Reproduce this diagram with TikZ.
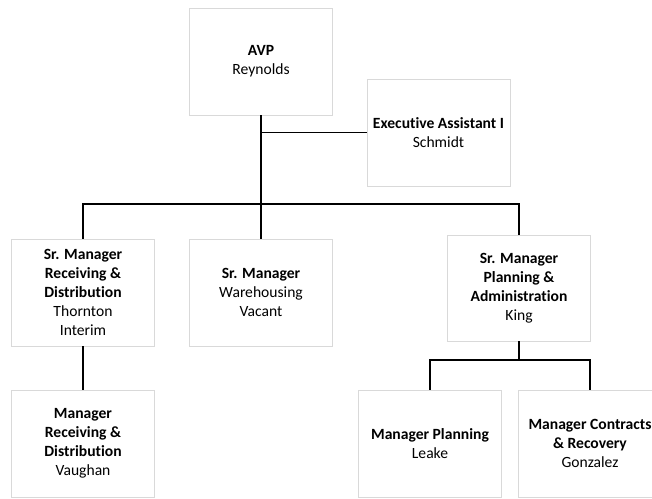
\documentclass[tikz,border=0pt]{standalone}
\usepackage{fontspec}
\setmainfont[Ligatures=NoCommon]{Carlito}
\definecolor{boxline}{HTML}{D9D9D9}
\begin{document}
\begin{tikzpicture}[x=1pt,y=-1pt,
  post/.style={draw=boxline, line width=0.9pt, fill=white, minimum width=143pt,
    minimum height=107pt, align=center, inner sep=2pt,
    font=\fontsize{15.6}{19}\selectfont},
  link/.style={draw=black, line width=1.9pt}]
\useasboundingbox (0,0) rectangle (652,498);
\clip (0,0) rectangle (652,498);

% reporting lines
\coordinate (bus) at (261,204);
\coordinate (sub) at (519,360);

\node[post] (avp)   at (261,61.5)  {\textbf{AVP}\\Reynolds};
\node[post] (exec)  at (438.5,132.5) {\textbf{Executive Assistant I}\\Schmidt};
\node[post] (smrd)  at (83,292.5)  {\textbf{Sr. Manager}\\\textbf{Receiving \&}\\\textbf{Distribution}\\Thornton\\Interim};
\node[post] (smwh)  at (261,292.5) {\textbf{Sr. Manager}\\Warehousing\\Vacant};
\node[post, minimum height=106pt] (king) at (519,288) {\textbf{Sr. Manager}\\\textbf{Planning \&}\\\textbf{Administration}\\King};
\node[post] (mrd)   at (83,443.5)  {\textbf{Manager}\\\textbf{Receiving \&}\\\textbf{Distribution}\\Vaughan};
\node[post] (mpl)   at (430,443.5) {\textbf{Manager Planning}\\Leake};
\node[post] (mcr)   at (590,443.5) {\textbf{Manager Contracts}\\\textbf{\& Recovery}\\Gonzalez};

\draw[link] (avp.south) -- (bus);
\draw[link] (avp.south |- exec.west) -- (exec.west);
\draw[link] (smrd.north) |- (king.north |- bus) -- (king.north);
\draw[link] (bus) -- (smwh.north);
\draw[link] (smrd.south) -- (mrd.north);
\draw[link] (king.south) -- (sub);
\draw[link] (mpl.north) |- (mcr.north |- sub) -- (mcr.north);
\end{tikzpicture}
\end{document}
